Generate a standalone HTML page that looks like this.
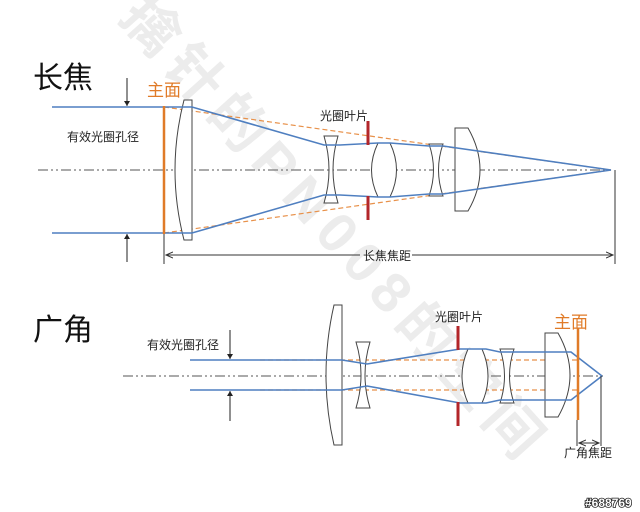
<!DOCTYPE html>
<html><head><meta charset="utf-8"><style>
html,body{margin:0;padding:0;background:#fff;}
svg{display:block;}
text{font-family:"Liberation Sans","Noto Sans CJK SC",sans-serif;}
</style></head><body>
<svg width="640" height="512" viewBox="0 0 640 512" xmlns="http://www.w3.org/2000/svg">
<defs>
<marker id="ah" markerWidth="8" markerHeight="8" refX="7" refY="4" orient="auto" markerUnits="userSpaceOnUse"><path d="M0,1 L7,4 L0,7" fill="none" stroke="#333" stroke-width="1"/></marker>
<marker id="af" markerWidth="6" markerHeight="6" refX="5" refY="3" orient="auto" markerUnits="userSpaceOnUse"><path d="M0,0 L5,3 L0,6 Z" fill="#222"/></marker>
</defs>
<!-- watermark -->
<text x="0" y="0" transform="translate(118,18) rotate(48)" font-size="56" font-weight="bold" fill="#ececec" letter-spacing="9">擒针的PN008的空间</text>

<!-- ===== TOP: 长焦 ===== -->
<text x="33" y="88" font-size="30" fill="#111">长焦</text>
<text x="147" y="96" font-size="17" fill="#e07b28">主面</text>
<text x="67" y="141" font-size="12" fill="#222">有效光圈孔径</text>
<text x="320" y="120" font-size="12" fill="#222">光圈叶片</text>

<line x1="38" y1="170" x2="612" y2="170" stroke="#777" stroke-width="1.2" stroke-dasharray="10,3,2,3,2,3"/>

<line x1="127" y1="78" x2="127" y2="106" stroke="#222" stroke-width="1" marker-end="url(#af)"/>
<line x1="127" y1="262" x2="127" y2="234" stroke="#222" stroke-width="1" marker-end="url(#af)"/>
<line x1="164" y1="233" x2="164" y2="264" stroke="#333" stroke-width="1"/>
<line x1="615" y1="170" x2="615" y2="264" stroke="#333" stroke-width="1"/>
<line x1="360" y1="255" x2="166" y2="255" stroke="#333" stroke-width="1" marker-end="url(#ah)"/>
<line x1="412" y1="255" x2="613" y2="255" stroke="#333" stroke-width="1" marker-end="url(#ah)"/>
<text x="363" y="260" font-size="12" fill="#222">长焦焦距</text>

<path d="M164,107 L611,170 M164,233 L611,170" stroke="#e8914a" stroke-width="1.2" stroke-dasharray="5,3" fill="none"/>

<g fill="#fff" stroke="#444" stroke-width="1">
<path d="M184,100 L192,100 L192,240 L184,240 Q166,170 184,100 Z"/>
<path d="M324,136 L338,136 Q328,170 338,203 L324,203 Q334,170 324,136 Z"/>
<path d="M378,143 L390,143 Q403,170 390,197 L378,197 Q365,170 378,143 Z"/>
<path d="M429,144 L443,144 Q434,170 443,196 L429,196 Q438,170 429,144 Z"/>
<path d="M455,128 L468,128 Q492,170 468,211 L455,211 Z"/>
</g>
<path d="M52,107 L192,107 L324,145 L340,145 L378,143 L390,143 L429,146 L443,146 L611,170 M52,233 L192,233 L324,195 L340,195 L378,197 L390,197 L429,194 L443,194 L611,170" stroke="#4f7fc0" stroke-width="1.6" fill="none"/>
<line x1="164" y1="106" x2="164" y2="234" stroke="#e07b28" stroke-width="2.5"/>
<line x1="368" y1="121" x2="368" y2="145" stroke="#b3262a" stroke-width="3"/>
<line x1="368" y1="196" x2="368" y2="220" stroke="#b3262a" stroke-width="3"/>

<!-- ===== BOTTOM: 广角 ===== -->
<text x="33" y="340" font-size="30" fill="#111">广角</text>
<text x="554" y="328" font-size="17" fill="#e07b28">主面</text>
<text x="147" y="349" font-size="12" fill="#222">有效光圈孔径</text>
<text x="435" y="321" font-size="12" fill="#222">光圈叶片</text>

<line x1="123" y1="376" x2="603" y2="376" stroke="#777" stroke-width="1.2" stroke-dasharray="10,3,2,3,2,3"/>

<line x1="230" y1="330" x2="230" y2="359" stroke="#222" stroke-width="1" marker-end="url(#af)"/>
<line x1="230" y1="421" x2="230" y2="391" stroke="#222" stroke-width="1" marker-end="url(#af)"/>

<path d="M260,360 L578,360 M260,390 L578,390" stroke="#e8914a" stroke-width="1.2" stroke-dasharray="5,3" fill="none"/>

<g fill="#fff" stroke="#444" stroke-width="1">
<path d="M334,305 L342,305 L342,445 L334,445 Q318,375 334,305 Z"/>
<path d="M356,342 L370,342 Q360,375 370,408 L356,408 Q366,375 356,342 Z"/>
<path d="M468,349 L482,349 Q494,376 482,403 L468,403 Q456,376 468,349 Z"/>
<path d="M500,349 L514,349 Q505,376 514,403 L500,403 Q509,376 500,349 Z"/>
<path d="M545,333 L558,333 Q582,375 558,417 L545,417 Z"/>
</g>
<path d="M190,360 L342,360 L367,364 L460,349 L486,349 L500,352 L571,352 L602,376 M190,390 L342,390 L367,386 L460,403 L486,403 L500,400 L571,400 L602,376" stroke="#4f7fc0" stroke-width="1.6" fill="none"/>
<line x1="578" y1="328" x2="578" y2="420" stroke="#e07b28" stroke-width="2.5"/>
<line x1="458" y1="326" x2="458" y2="350" stroke="#b3262a" stroke-width="3"/>
<line x1="458" y1="402" x2="458" y2="426" stroke="#b3262a" stroke-width="3"/>

<line x1="577" y1="420" x2="577" y2="446" stroke="#333" stroke-width="1"/>
<line x1="601" y1="376" x2="601" y2="446" stroke="#333" stroke-width="1"/>
<line x1="589" y1="443" x2="579" y2="443" stroke="#333" stroke-width="1" marker-end="url(#ah)"/>
<line x1="589" y1="443" x2="599" y2="443" stroke="#333" stroke-width="1" marker-end="url(#ah)"/>
<text x="564" y="457" font-size="12" fill="#222">广角焦距</text>

<text x="585" y="507" font-size="12" font-weight="bold" fill="#fff" stroke="#222" stroke-width="1.6" paint-order="stroke">#688769</text>
</svg>
</body></html>
